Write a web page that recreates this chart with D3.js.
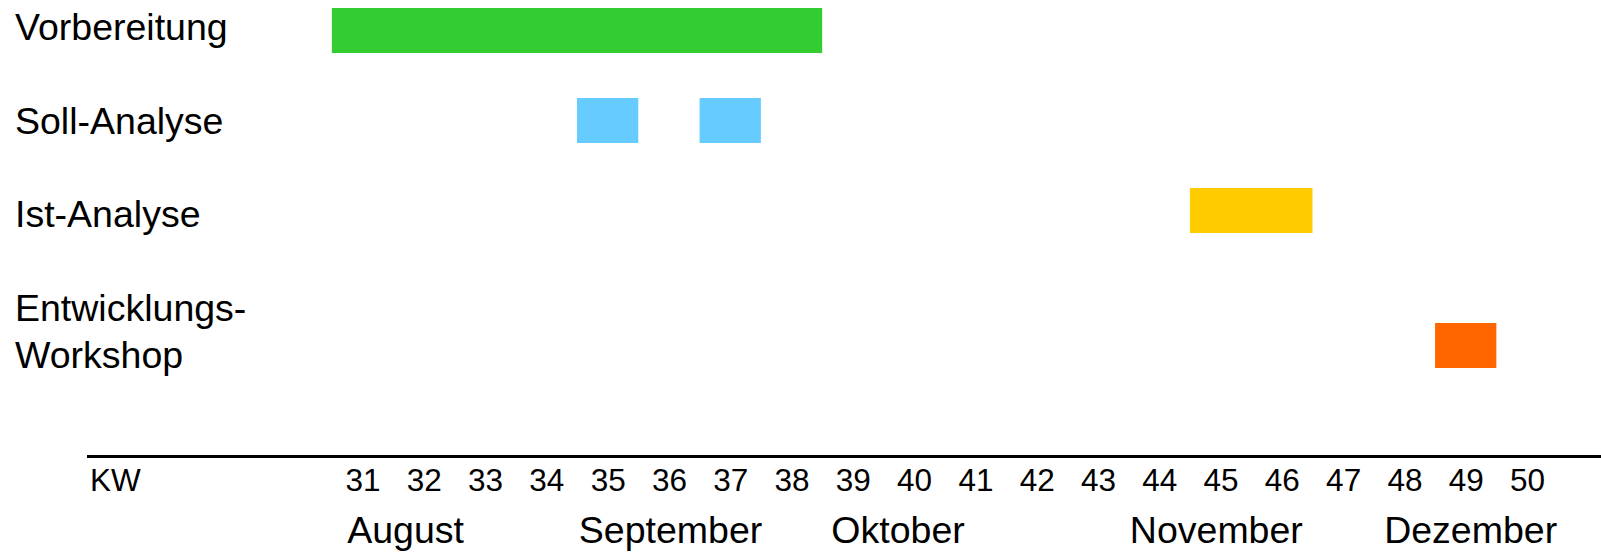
<!DOCTYPE html>
<html lang="de">
<head>
<meta charset="utf-8">
<title>Projektplan KW 31–50</title>
<script src="https://cdn.jsdelivr.net/npm/d3@7"></script>
<style>
  html, body { margin: 0; padding: 0; background: #ffffff; }
  svg { display: block; }
  text { font-family: "Liberation Sans", Arial, Helvetica, sans-serif; fill: #000; }
</style>
</head>
<body>
<svg id="chart" width="1601" height="555"></svg>
<script>
// Project phases (one row each); "\n" breaks a label onto a second line
const categories = ["Vorbereitung", "Soll-Analyse", "Ist-Analyse", "Entwicklungs-\nWorkshop"];
const categoryColors = ["#33cc33", "#66ccff", "#ffcc00", "#ff6600"];

// Scheduled blocks: phase, first and last calendar week (KW)
const taskCategory = ["Vorbereitung", "Soll-Analyse", "Soll-Analyse", "Ist-Analyse", "Entwicklungs-\nWorkshop"];
const taskFirstWeek = [31, 35, 37, 45, 49];
const taskLastWeek  = [38, 35, 37, 46, 49];

// Calendar-week axis
const weekTicks = [31, 32, 33, 34, 35, 36, 37, 38, 39, 40, 41, 42, 43, 44, 45, 46, 47, 48, 49, 50];
const weekAxisTitle = "KW";

// Month captions and the week where each caption starts
const months = ["August", "September", "Oktober", "November", "Dezember"];
const monthStartWeek = [30.75, 34.53, 38.65, 43.52, 47.67];

const svg = d3.select("#chart");
const W = 1601;
const labelFont = 37.5;
const weekFont = 31.5;

// Horizontal scale: week number -> centre of that week's column
const x = d3.scaleLinear().domain([31, 50]).range([362.5, 1527]);

// Rows are laid out on text-line slots: one blank line between phases,
// multi-line labels occupy several slots and the bar sits on the last one.
const rows = [];
let slot = 0;
categories.forEach((c, i) => {
  const lines = c.split("\n");
  rows.push({ name: c, lines, firstSlot: slot, barSlot: slot + lines.length - 1, color: categoryColors[i] });
  slot += lines.length + 1;
});
const lastSlot = rows[rows.length - 1].barSlot;

const yLabel = d3.scaleLinear().domain([0, lastSlot]).range([40, 368]);   // label baselines
const yBar   = d3.scaleLinear().domain([0, lastSlot]).range([30.5, 345.5]); // bar centres
const barHeight = 45;
const rowByName = new Map(rows.map(r => [r.name, r]));

// Phase labels
const labels = svg.append("g").attr("class", "row-labels");
rows.forEach(r => {
  r.lines.forEach((line, k) => {
    labels.append("text")
      .attr("x", 15)
      .attr("y", yLabel(r.firstSlot + k))
      .attr("font-size", labelFont)
      .text(line);
  });
});

// Gantt bars: each block covers whole weeks, first-0.5 .. last+0.5
const tasks = taskCategory.map((c, i) => ({ row: rowByName.get(c), first: taskFirstWeek[i], last: taskLastWeek[i] }));
svg.append("g").attr("class", "bars")
  .selectAll("rect")
  .data(tasks)
  .join("rect")
  .attr("x", d => x(d.first - 0.5))
  .attr("width", d => x(d.last + 0.5) - x(d.first - 0.5))
  .attr("y", d => yBar(d.row.barSlot) - barHeight / 2)
  .attr("height", barHeight)
  .attr("fill", d => d.row.color);

// Timeline rule
const axisY = 456.5;
svg.append("line")
  .attr("x1", 87).attr("x2", W)
  .attr("y1", axisY).attr("y2", axisY)
  .attr("stroke", "#000").attr("stroke-width", 3);

// Week numbers
const weekAxis = d3.axisBottom(x)
  .tickValues(weekTicks)
  .tickSize(0)
  .tickPadding(12)
  .tickFormat(d3.format("d"));

const gAxis = svg.append("g")
  .attr("class", "week-axis")
  .attr("transform", `translate(0,${axisY})`)
  .call(weekAxis);
gAxis.select(".domain").remove();
gAxis.selectAll("text")
  .attr("font-size", weekFont)
  .attr("font-family", null)
  .attr("fill", "#000");

svg.append("text")
  .attr("x", 90)
  .attr("y", 491)
  .attr("font-size", weekFont)
  .text(weekAxisTitle);

// Month captions
svg.append("g").attr("class", "months")
  .selectAll("text")
  .data(months)
  .join("text")
  .attr("x", (d, i) => x(monthStartWeek[i]))
  .attr("y", 543)
  .attr("font-size", labelFont)
  .text(d => d);
</script>
</body>
</html>
